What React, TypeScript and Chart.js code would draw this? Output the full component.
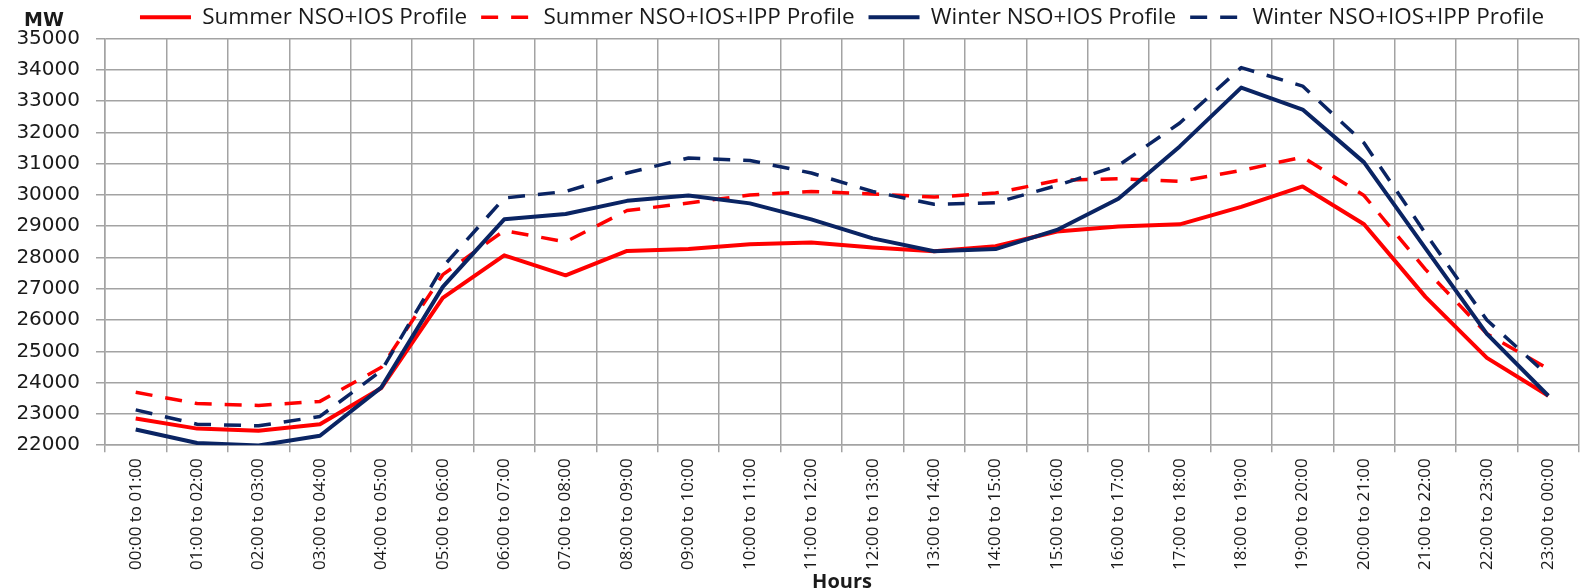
import React, { useEffect, useRef } from "react";
import { Chart, registerables } from "chart.js";

Chart.register(...registerables);

const categories = [
  "00:00 to 01:00", "01:00 to 02:00", "02:00 to 03:00", "03:00 to 04:00",
  "04:00 to 05:00", "05:00 to 06:00", "06:00 to 07:00", "07:00 to 08:00",
  "08:00 to 09:00", "09:00 to 10:00", "10:00 to 11:00", "11:00 to 12:00",
  "12:00 to 13:00", "13:00 to 14:00", "14:00 to 15:00", "15:00 to 16:00",
  "16:00 to 17:00", "17:00 to 18:00", "18:00 to 19:00", "19:00 to 20:00",
  "20:00 to 21:00", "21:00 to 22:00", "22:00 to 23:00", "23:00 to 00:00",
];

const summerNsoIos = [
  22850, 22530, 22460, 22670, 23830, 26710, 28070, 27430, 28210, 28270, 28420, 28480,
  28320, 28200, 28360, 28830, 28990, 29060, 29620, 30270, 29060, 26740, 24790, 23580,
];

const summerNsoIosIpp = [
  23690, 23330, 23270, 23400, 24490, 27450, 28860, 28500, 29500, 29740, 30000, 30110,
  30030, 29930, 30060, 30460, 30520, 30430, 30780, 31210, 29980, 27620, 25560, 24440,
];

const winterNsoIos = [
  22500, 22070, 21990, 22300, 23850, 27060, 29220, 29390, 29810, 29980, 29730, 29220,
  28610, 28200, 28270, 28880, 29880, 31550, 33430, 32730, 31040, 28290, 25560, 23580,
];

const winterNsoIosIpp = [
  23130, 22670, 22620, 22920, 24380, 27700, 29900, 30110, 30700, 31180, 31100, 30700,
  30110, 29700, 29750, 30300, 30940, 32300, 34070, 33480, 31660, 28770, 26000, 24220,
];

const seriesNames = [
  "Summer NSO+IOS Profile",
  "Summer NSO+IOS+IPP Profile",
  "Winter NSO+IOS Profile",
  "Winter NSO+IOS+IPP Profile",
];

const yMin = 22000;
const yMax = 35000;
const yStep = 1000;

const RED = "#ff0000";
const NAVY = "#0a2463";
const GRID = "#a3a3a3";
const TEXT = "#1a1a1a";

const mwLabel = {
  id: "mwLabel",
  afterDraw(chart: any) {
    const ctx = chart.ctx;
    ctx.save();
    ctx.font = "bold 19px 'DejaVu Sans'";
    ctx.fillStyle = TEXT;
    ctx.textAlign = "center";
    ctx.textBaseline = "middle";
    ctx.fillText("MW", 44, 21);
    ctx.restore();
  },
};

// centre the legend over the plot area instead of the whole canvas
const legendOverPlot = {
  id: "legendOverPlot",
  afterLayout(chart: any) {
    const lg = chart.legend;
    if (!lg) return;
    lg.left = chart.chartArea.left;
    lg.right = chart.chartArea.right;
  },
};

export default function App() {
  const canvasRef = useRef<HTMLCanvasElement | null>(null);

  useEffect(() => {
    if (!canvasRef.current) return;
    const mk = (label: string, data: number[], color: string, dashed: boolean, order: number) => ({
      label,
      data,
      borderColor: color,
      backgroundColor: color,
      borderWidth: dashed ? 3.5 : 4,
      borderDash: dashed ? [17, 13] : [],
      borderCapStyle: "butt" as const,
      borderJoinStyle: "round" as const,
      pointRadius: 0,
      pointHoverRadius: 0,
      pointStyle: "line" as const,
      tension: 0,
      fill: false,
      order,
    });

    const chart = new Chart(canvasRef.current, {
      type: "line",
      data: {
        labels: categories,
        datasets: [
          mk(seriesNames[0], summerNsoIos, RED, false, 4),
          mk(seriesNames[1], summerNsoIosIpp, RED, true, 3),
          mk(seriesNames[2], winterNsoIos, NAVY, false, 2),
          mk(seriesNames[3], winterNsoIosIpp, NAVY, true, 1),
        ],
      },
      options: {
        animation: false,
        responsive: true,
        maintainAspectRatio: false,
        layout: { padding: { left: 0, right: 1, top: -8, bottom: -8 } },
        plugins: {
          legend: {
            position: "top",
            align: "center",
            labels: {
              usePointStyle: true,
              pointStyleWidth: 51,
              font: { family: "'Open Sans'", size: 22.5 },
              color: TEXT,
              padding: 14,
              sort: (a: any, b: any) => a.datasetIndex - b.datasetIndex,
              generateLabels: (chart: any) => {
                const items = Chart.defaults.plugins.legend.labels.generateLabels(chart);
                return items.map((it: any) => {
                  const ds: any = chart.data.datasets[it.datasetIndex];
                  return {
                    ...it,
                    pointStyle: "line",
                    lineDash: ds.borderDash,
                    lineWidth: ds.borderWidth,
                    strokeStyle: ds.borderColor,
                    fillStyle: ds.borderColor,
                    lineCap: "butt",
                  };
                });
              },
            },
          },
          tooltip: { enabled: false },
        },
        scales: {
          x: {
            offset: true,
            grid: { offset: true, color: GRID, lineWidth: 1.5, tickLength: 7 },
            border: { color: GRID, width: 1.5 },
            ticks: {
              autoSkip: false,
              minRotation: 90,
              maxRotation: 90,
              font: { family: "'Open Sans'", size: 17 },
              color: TEXT,
              padding: 6,
            },
            title: {
              display: true,
              text: "Hours",
              font: { family: "'Open Sans'", size: 20, weight: "bold" },
              color: TEXT,
              padding: { top: -6, bottom: 2 },
            },
          },
          y: {
            min: yMin,
            max: yMax,
            afterFit: (s: any) => {
              s.width = 105;
            },
            grid: { color: GRID, lineWidth: 1.5, tickLength: 9 },
            border: { color: GRID, width: 1.5 },
            ticks: {
              stepSize: yStep,
              callback: (v: any) => String(v),
              font: { family: "'DejaVu Sans'", size: 20 },
              color: TEXT,
              padding: 16,
            },
          },
        },
      },
      plugins: [mwLabel, legendOverPlot],
    });
    return () => chart.destroy();
  }, []);

  return (
    <div style={{ position: "absolute", left: 0, top: 0, width: 1580, height: 588 }}>
      <canvas ref={canvasRef} />
    </div>
  );
}
